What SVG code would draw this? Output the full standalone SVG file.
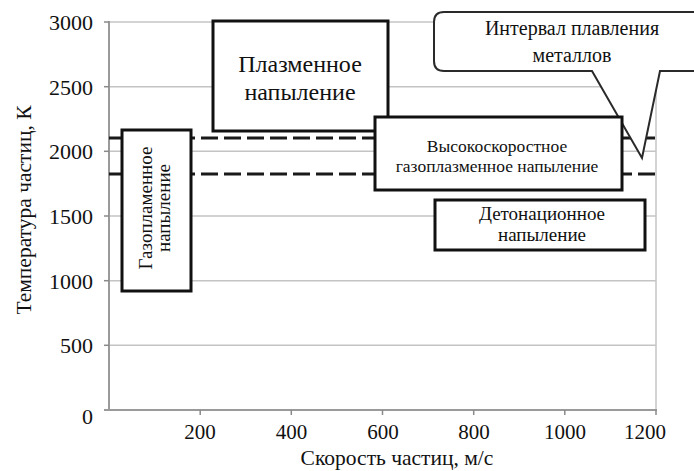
<svg xmlns="http://www.w3.org/2000/svg" width="694" height="471" viewBox="0 0 694 471">
<style>
  text { font-family: "Liberation Serif", "Times New Roman", serif; fill: #111; }
  .grid { stroke: #c4c4c4; stroke-width: 1.5; fill: none; }
  .axis { stroke: #9a9a9a; stroke-width: 2; fill: none; }
  .tick { stroke: #8a8a8a; stroke-width: 1.5; }
  .dash { stroke: #1a1a1a; stroke-width: 3; stroke-dasharray: 17 6; fill: none; }
  .box { fill: #fff; stroke: #111; stroke-width: 3; }
  .ytl { font-size: 22px; text-anchor: end; }
  .xtl { font-size: 21px; text-anchor: middle; }
  .lbl { text-anchor: middle; }
</style>
<rect x="0" y="0" width="694" height="471" fill="#fff"/>

<g id="chart-axes">
  <line class="grid" x1="109" y1="22" x2="656" y2="22"/>
  <line class="grid" x1="109" y1="86.7" x2="656" y2="86.7"/>
  <line class="grid" x1="109" y1="151.3" x2="656" y2="151.3"/>
  <line class="grid" x1="109" y1="216" x2="656" y2="216"/>
  <line class="grid" x1="109" y1="280.7" x2="656" y2="280.7"/>
  <line class="grid" x1="109" y1="345.3" x2="656" y2="345.3"/>
  <line class="grid" x1="656" y1="22" x2="656" y2="410"/>
  <line class="axis" x1="109" y1="21" x2="109" y2="411"/>
  <line class="axis" x1="104" y1="410" x2="657" y2="410"/>
  <g class="tick">
    <line x1="104" y1="22" x2="109" y2="22"/>
    <line x1="104" y1="86.7" x2="109" y2="86.7"/>
    <line x1="104" y1="151.3" x2="109" y2="151.3"/>
    <line x1="104" y1="216" x2="109" y2="216"/>
    <line x1="104" y1="280.7" x2="109" y2="280.7"/>
    <line x1="104" y1="345.3" x2="109" y2="345.3"/>
    <line x1="200.2" y1="410" x2="200.2" y2="415"/>
    <line x1="291.3" y1="410" x2="291.3" y2="415"/>
    <line x1="382.5" y1="410" x2="382.5" y2="415"/>
    <line x1="473.7" y1="410" x2="473.7" y2="415"/>
    <line x1="564.8" y1="410" x2="564.8" y2="415"/>
    <line x1="656" y1="410" x2="656" y2="415"/>
  </g>
  <text class="ytl" x="93" y="30">3000</text>
  <text class="ytl" x="93" y="95">2500</text>
  <text class="ytl" x="93" y="159">2000</text>
  <text class="ytl" x="93" y="224">1500</text>
  <text class="ytl" x="93" y="289">1000</text>
  <text class="ytl" x="93" y="353">500</text>
  <text class="ytl" x="93" y="424">0</text>
  <text class="xtl" x="200" y="439">200</text>
  <text class="xtl" x="291.5" y="439">400</text>
  <text class="xtl" x="383" y="439">600</text>
  <text class="xtl" x="474" y="439">800</text>
  <text class="xtl" x="565" y="439">1000</text>
  <text class="xtl" x="645" y="439">1200</text>
  <text x="397" y="465" font-size="21.5" text-anchor="middle">Скорость частиц, м/с</text>
  <text x="31" y="210" font-size="21.5" text-anchor="middle" transform="rotate(-90 31 210)">Температура частиц, К</text>
</g>

<g id="connectors">
  <line class="dash" x1="109" y1="138" x2="656" y2="138"/>
  <line class="dash" x1="109" y1="174" x2="656" y2="174"/>
  <path d="M694 12 H444 Q434 12 434 22 V61 Q434 71 444 71 H592 L642 158 L660 71 H694" fill="#fff" stroke="#2a2a2a" stroke-width="2"/>
</g>

<g id="melting-callout">
  <text class="lbl" x="572" y="35" font-size="20">Интервал плавления</text>
  <text class="lbl" x="572" y="62" font-size="20">металлов</text>
</g>

<g id="plasma">
  <rect class="box" x="213" y="21" width="175" height="110"/>
  <text class="lbl" x="300" y="72" font-size="24">Плазменное</text>
  <text class="lbl" x="300" y="100" font-size="24">напыление</text>
</g>

<g id="gas-flame">
  <rect class="box" x="122" y="130" width="69" height="161"/>
  <text class="lbl" x="152" y="208" font-size="19" transform="rotate(-90 152 208)">Газопламенное</text>
  <text class="lbl" x="170" y="208" font-size="19" transform="rotate(-90 170 208)">напыление</text>
</g>

<g id="hvof">
  <rect class="box" x="375" y="117" width="247" height="73"/>
  <text class="lbl" x="497" y="152" font-size="17.5">Высокоскоростное</text>
  <text class="lbl" x="497" y="172" font-size="17.5">газоплазменное напыление</text>
</g>

<g id="detonation">
  <rect class="box" x="435" y="200" width="210" height="50"/>
  <text class="lbl" x="542" y="220" font-size="19">Детонационное</text>
  <text class="lbl" x="542" y="241" font-size="19">напыление</text>
</g>
</svg>
